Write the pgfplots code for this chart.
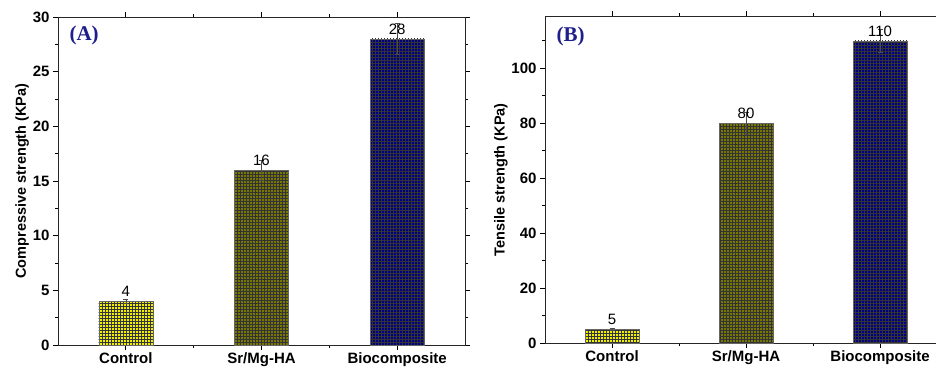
\documentclass[border=0pt]{standalone}
\usepackage{fontspec}
\setmainfont{Liberation Sans}
\newfontfamily\serifpanel{Liberation Serif}
\usepackage{pgfplots}
\pgfplotsset{compat=1.18}
\usetikzlibrary{patterns}
\definecolor{ctrl}{RGB}{240,240,0}
\definecolor{srmg}{RGB}{120,120,0}
\definecolor{bio}{RGB}{0,0,130}
\definecolor{panel}{RGB}{30,30,140}
\pgfplotsset{
  mybase/.style={
    scale only axis,
    anchor=south west,
    xmin=-0.5, xmax=2.5,
    ymin=0,
    xtick={0,1,2},
    xticklabels={Control,Sr/Mg-HA,Biocomposite},
    minor xtick={0.5,1.5},
    tick align=outside,
    major tick length=5pt,
    minor tick length=3pt,
    axis line style={line width=0.9pt, black!85},
    every tick/.style={black, line width=0.8pt},
    tick label style={font=\fontsize{15}{17}\selectfont\bfseries},
    label style={font=\fontsize{14.5}{16}\selectfont\bfseries},
    /pgf/number format/assume math mode=true,
    ybar, bar width=0.4, bar shift=0pt,
    ylabel shift=-3pt,
    xticklabel shift=-1pt,
    error bars/error bar style={black!70, line width=0.5pt},
    error bars/error mark options={rotate=90, mark size=2.5pt, black!70, line width=0.5pt},
    nodes near coords,
    every node near coord/.append style={font=\fontsize{15}{16}\selectfont, black, yshift=1pt},
    clip=false,
  },
  mybar/.style={draw=black!60, line width=0.4pt, fill=#1, postaction={pattern=grid, pattern color=black!80},
    error bars/.cd, y dir=both, y explicit},
}
\begin{document}
\begin{tikzpicture}[x=1pt,y=1pt]
\useasboundingbox (0,0) rectangle (936,369);
\clip (0,0) rectangle (936,369);
\begin{axis}[mybase,
  at={(58pt,24pt)}, width=407pt, height=328pt,
  ymax=30, ytick={0,5,...,30}, minor ytick={2.5,7.5,...,27.5},
  ylabel={Compressive strength (KPa)}]
\addplot[mybar=ctrl] coordinates {(0,4) +- (0,0.2)};
\addplot[mybar=srmg] coordinates {(1,16) +- (0,0.9)};
\addplot[mybar=bio] coordinates {(2,28) +- (0,1.4)};
\end{axis}
\node[anchor=west, text=panel, font=\serifpanel\fontsize{21}{22}\selectfont\bfseries] at (66,334) {(A)};
\begin{axis}[mybase,
  at={(545pt,25.7pt)}, width=402pt, height=327.3pt,
  ymax=119, ytick={0,20,...,100}, minor ytick={10,30,...,110},
  ylabel={Tensile strength (KPa)}]
\addplot[mybar=ctrl] coordinates {(0,5) +- (0,0.4)};
\addplot[mybar=srmg] coordinates {(1,80) +- (0,4)};
\addplot[mybar=bio] coordinates {(2,110) +- (0,4)};
\end{axis}
\node[anchor=west, text=panel, font=\serifpanel\fontsize{21}{22}\selectfont\bfseries] at (553,333) {(B)};
\end{tikzpicture}
\end{document}
